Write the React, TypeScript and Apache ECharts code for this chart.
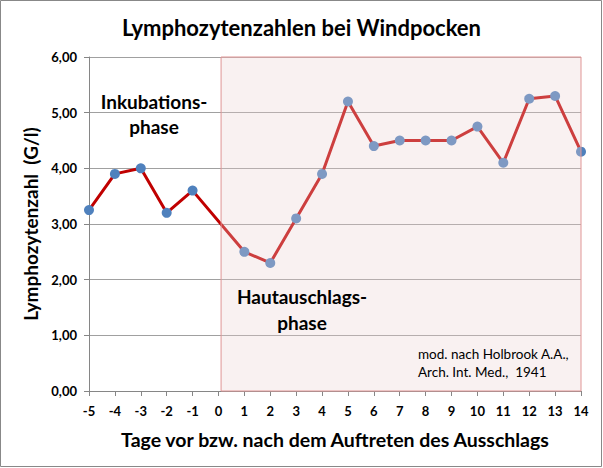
import React, { useEffect, useRef } from "react";
import * as echarts from "echarts";

const days = [-5, -4, -3, -2, -1, 1, 2, 3, 4, 5, 6, 7, 8, 9, 10, 11, 12, 13, 14];
const lymphocytes = [3.25, 3.9, 4.0, 3.2, 3.6, 2.5, 2.3, 3.1, 3.9, 5.2, 4.4, 4.5, 4.5, 4.5, 4.75, 4.1, 5.25, 5.3, 4.3];
const rashStart = 0.1;
const rashEnd = 14;
const yTicks = [0, 1, 2, 3, 4, 5, 6];

const FONT = "Lato";

export default function App() {
  const ref = useRef<HTMLDivElement>(null);
  useEffect(() => {
    document.body.style.margin = "0";
    const chart = echarts.init(ref.current!, null, { renderer: "svg" });
    const data = days.map((d, i) => [d, lymphocytes[i]]);
    chart.setOption({
      animation: false,
      backgroundColor: "#ffffff",
      textStyle: { fontFamily: FONT },
      title: {
        text: "Lymphozytenzahlen bei Windpocken",
        left: "center",
        top: 11,
        textStyle: { fontFamily: FONT, fontSize: 22, fontWeight: "bold", color: "#000" },
      },
      grid: { left: 89, right: 22, top: 57, bottom: 77 },
      xAxis: {
        type: "value",
        min: -5,
        max: 14,
        interval: 1,
        name: "Tage vor bzw. nach dem Auftreten des Ausschlags",
        nameLocation: "middle",
        nameGap: 38,
        nameTextStyle: { fontFamily: FONT, fontSize: 19.5, fontWeight: "bold", color: "#000" },
        axisLine: { onZero: false, lineStyle: { color: "#868686", width: 1 } },
        axisTick: { show: true, length: 5, lineStyle: { color: "#868686" } },
        axisLabel: { fontFamily: FONT, fontSize: 13, fontWeight: "bold", color: "#000", margin: 13 },
        splitLine: { show: false },
      },
      yAxis: {
        type: "value",
        min: yTicks[0],
        max: yTicks[yTicks.length - 1],
        interval: 1,
        name: "Lymphozytenzahl  (G/l)",
        nameLocation: "middle",
        nameGap: 46,
        nameTextStyle: { fontFamily: FONT, fontSize: 19, fontWeight: "bold", color: "#000" },
        axisLine: { show: true, onZero: false, lineStyle: { color: "#868686", width: 1 } },
        axisTick: { show: true, length: 5, lineStyle: { color: "#868686" } },
        axisLabel: {
          fontFamily: FONT,
          fontSize: 13,
          fontWeight: "bold",
          color: "#000",
          margin: 12,
          formatter: (v: number) => v.toFixed(2).replace(".", ","),
        },
        splitLine: { show: true, lineStyle: { color: "#A0A0A0", width: 1 } },
      },
      series: [
        {
          type: "line",
          data,
          symbol: "circle",
          symbolSize: 10,
          itemStyle: { color: "#4F81BD" },
          lineStyle: { color: "#C00000", width: 3 },
          z: 2,
        },
        {
          type: "line",
          data: [],
          z: 10,
          markArea: {
            silent: true,
            z: 10,
            itemStyle: {
              color: "rgba(235,210,210,0.3)",
              borderColor: "#E09595",
              borderWidth: 1,
            },
            data: [[{ xAxis: rashStart }, { xAxis: rashEnd }]],
          },
        },
      ],
      graphic: [
        {
          type: "rect",
          z: 100,
          shape: { x: 0.5, y: 0.5, width: 601, height: 466 },
          style: { fill: "none", stroke: "#888", lineWidth: 1 },
        },
        {
          type: "text",
          z: 100,
          x: 154,
          y: 114,
          style: {
            text: "Inkubations-\nphase",
            fontFamily: FONT,
            fontSize: 19,
            fontWeight: "bold",
            fill: "#000",
            align: "center",
            verticalAlign: "middle",
            lineHeight: 25,
          },
        },
        {
          type: "text",
          z: 100,
          x: 302,
          y: 309,
          style: {
            text: "Hautauschlags-\nphase",
            fontFamily: FONT,
            fontSize: 19,
            fontWeight: "bold",
            fill: "#000",
            align: "center",
            verticalAlign: "middle",
            lineHeight: 26,
          },
        },
        {
          type: "text",
          z: 100,
          x: 418,
          y: 363,
          style: {
            text: "mod. nach Holbrook A.A.,\nArch. Int. Med.,  1941",
            fontFamily: FONT,
            fontSize: 13.5,
            fill: "#000",
            align: "left",
            verticalAlign: "middle",
            lineHeight: 18,
          },
        },
      ],
    });
    return () => chart.dispose();
  }, []);
  return <div ref={ref} style={{ width: 603, height: 468 }} />;
}
